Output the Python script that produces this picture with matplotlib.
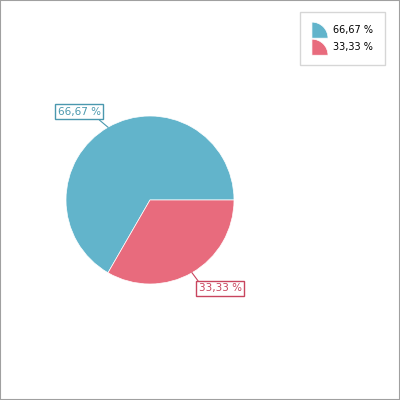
import math
import matplotlib
matplotlib.use("Agg")
import matplotlib.pyplot as plt
from matplotlib.patches import Wedge, Rectangle
from matplotlib.legend_handler import HandlerBase

# данные
values = [2, 1]
colors = ['#62B4CB', '#E86B7D']
text_colors = ['#4A98AE', '#C8455E']


def fmt(v):
    return f"{v:.2f}".replace('.', ',') + ' %'


total = sum(values)
percents = [v / total * 100 for v in values]
labels = [fmt(p) for p in percents]


class WedgeHandler(HandlerBase):
    def create_artists(self, legend, orig_handle, xdescent, ydescent,
                       width, height, fontsize, trans):
        r = width
        w = Wedge((-xdescent, -ydescent - 2), r, 0, 90,
                  facecolor=orig_handle.get_facecolor(),
                  edgecolor='white', linewidth=0.5, transform=trans)
        return [w]


fig = plt.figure(figsize=(4, 4), dpi=100)
fig.patch.set_facecolor('white')
fig.patches.append(Rectangle((0, 0), 1, 1, transform=fig.transFigure,
                             fill=False, edgecolor='#A0A0A0', linewidth=1.5))

ax = fig.add_axes([0.165, 0.29, 0.42, 0.42])
wedges, _ = ax.pie(values, colors=colors, startangle=0, counterclock=True,
                   radius=1, wedgeprops=dict(edgecolor='white', linewidth=0.5))
ax.set_xlim(-1, 1)
ax.set_ylim(-1, 1)
ax.set_aspect('equal')
ax.axis('off')

# подписи с выносками
label_pos = [(-0.845, 1.05), (0.835, -1.05)]
line_end = [(-0.6, 0.95), (0.57, -0.96)]
start = 0
for i, v in enumerate(values):
    ang = start + 360 * v / total / 2
    start += 360 * v / total
    ex, ey = math.cos(math.radians(ang)), math.sin(math.radians(ang))
    ax.plot([ex, line_end[i][0]], [ey, line_end[i][1]], color=text_colors[i],
            linewidth=0.8, clip_on=False)
    ax.text(label_pos[i][0], label_pos[i][1], labels[i], color=text_colors[i],
            fontsize=7.5, ha='center', va='center', clip_on=False,
            bbox=dict(boxstyle='square,pad=0.25', facecolor='white',
                      edgecolor=text_colors[i], linewidth=1))

leg = fig.legend(wedges, labels, handler_map={Wedge: WedgeHandler()},
                 loc='upper right', bbox_to_anchor=(0.9625, 0.97),
                 fontsize=7, frameon=True, fancybox=False,
                 handlelength=1.65, handleheight=1.4, handletextpad=0.5,
                 borderpad=1.25, labelspacing=0.6, borderaxespad=0)
leg.get_frame().set_edgecolor('#CCCCCC')
leg.get_frame().set_linewidth(1)

fig.savefig('out.png', dpi=100)
